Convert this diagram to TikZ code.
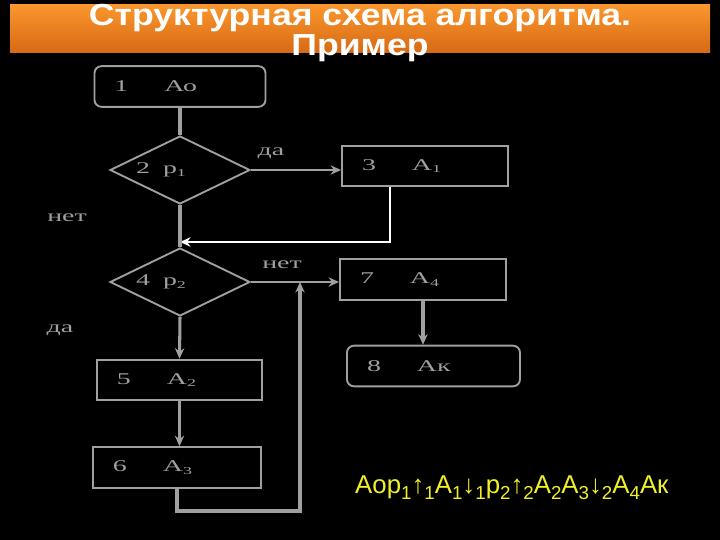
\documentclass[tikz,border=0pt]{standalone}
\usepackage{fontspec}
\setmainfont{Liberation Serif}
\newfontfamily\titlefont[FakeStretch=1.17]{Liberation Sans}
\newfontfamily\formfont{Liberation Sans}
\newfontfamily\blokfont[FakeStretch=1.7]{Liberation Serif}
\usetikzlibrary{shapes.geometric,arrows.meta}

\definecolor{linegray}{RGB}{160,160,160}
\definecolor{bannertop}{RGB}{250,150,45}
\definecolor{bannerbot}{RGB}{215,105,20}
\definecolor{formula}{RGB}{240,240,40}

% subscript for the block labels
\newcommand{\nizh}[1]{\raisebox{-0.35ex}{\fontsize{9}{9}\selectfont #1}}
% subscript for the yellow formula
\newcommand{\fnizh}[1]{\raisebox{-0.45ex}{\fontsize{16}{16}\selectfont #1}}
% block text: number, then operator
\newcommand{\blk}[2]{\makebox[1.5cm][l]{#1}#2}
% condition text: number, then predicate, pushed left
\newcommand{\usltext}[2]{\makebox[0.81cm][l]{#1}p\nizh{#2}\rule{1.14cm}{0pt}}

\tikzset{
  blok/.style={rectangle,draw=linegray,line width=1.6pt,text=linegray,
    minimum height=1.22cm,inner xsep=0.6cm,align=left,
    font=\blokfont\fontsize{14}{15}\selectfont},
  usl/.style={diamond,draw=linegray,line width=1.6pt,text=linegray,
    minimum width=4.2cm,minimum height=2.04cm,aspect=2.06,inner sep=0pt,
    font=\blokfont\fontsize{14}{15}\selectfont},
  metka/.style={text=linegray,font=\blokfont\fontsize{14}{15}\selectfont},
  svyaz/.style={draw=linegray,line width=1.6pt},
  tolst/.style={draw=linegray,line width=2.6pt},
  strel/.style={-{Stealth[length=9pt,width=8pt]}}
}

\begin{document}
\begin{tikzpicture}[x=0.03cm,y=-0.03cm]
  \fill[black] (0,0) rectangle (720,540);
  \useasboundingbox (0,0) rectangle (720,540);

  % title banner
  \shade[top color=bannertop,bottom color=bannerbot] (10,5) rectangle (710,53);
  \node[text=white,align=center,font=\titlefont\bfseries\fontsize{26}{25}\selectfont]
    (title) at (360,33) {Структурная схема алгоритма.\\Пример};

  % blocks
  \node[blok,rounded corners=6pt,text width=3.93cm] (b1) at (180,86.5) {\blk{1}{Ао}};
  \node[usl] (d2) at (180,170) {\usltext{2}{1}};
  \node[blok,text width=3.78cm] (b3) at (425,166) {\blk{3}{А\nizh{1}}};
  \node[usl] (d4) at (180,282) {\usltext{4}{2}};
  \node[blok,text width=3.78cm] (b7) at (423,279.5) {\blk{7}{А\nizh{4}}};
  \node[blok,rounded corners=6pt,text width=3.99cm] (b8) at (433.5,366) {\blk{8}{Ак}};
  \node[blok,text width=3.75cm] (b5) at (179.5,380) {\blk{5}{А\nizh{2}}};
  \node[blok,text width=3.84cm] (b6) at (177,467.5) {\blk{6}{А\nizh{3}}};

  % branch labels
  \node[metka] (da1) at (271,153) {да};
  \node[metka] (net1) at (67,218) {нет};
  \node[metka] (net2) at (282,265) {нет};
  \node[metka] (da2) at (60,330) {да};

  % junction points
  \coordinate (mrg) at (180,242);
  \coordinate (ugol) at (390,242);
  \coordinate (vozv) at (300,511);
  \coordinate (vhod) at (300,282);

  % connectors
  \draw[tolst] (b1.south) -- (d2.north);
  \draw[svyaz,strel] (d2.east) -- (d2.east -| b3.west);
  \draw[white,line width=1.6pt,strel] (b3.south -| ugol) -- (ugol) -- (mrg);
  \draw[tolst] (d2.south) -- (d4.north);
  \draw[svyaz,strel] (d4.east) -- (d4.east -| b7.west);
  \draw[tolst,strel] (b7.south) -- (b7.south |- b8.north);
  \draw[tolst,strel] (d4.south) -- (b5.north);
  \draw[tolst,strel] (b5.south) -- (b5.south |- b6.north);
  \draw[tolst,strel] (b6.south) |- (vozv) -- (vhod);

  % formula
  \node[anchor=base west,text=formula,inner sep=0pt,
    font=\formfont\fontsize{22}{23}\selectfont] (form) at (355,493)
    {Аор\fnizh{1}↑\fnizh{1}А\fnizh{1}↓\fnizh{1}р\fnizh{2}↑\fnizh{2}А\fnizh{2}А\fnizh{3}↓\fnizh{2}А\fnizh{4}Ак};
\end{tikzpicture}
\end{document}
